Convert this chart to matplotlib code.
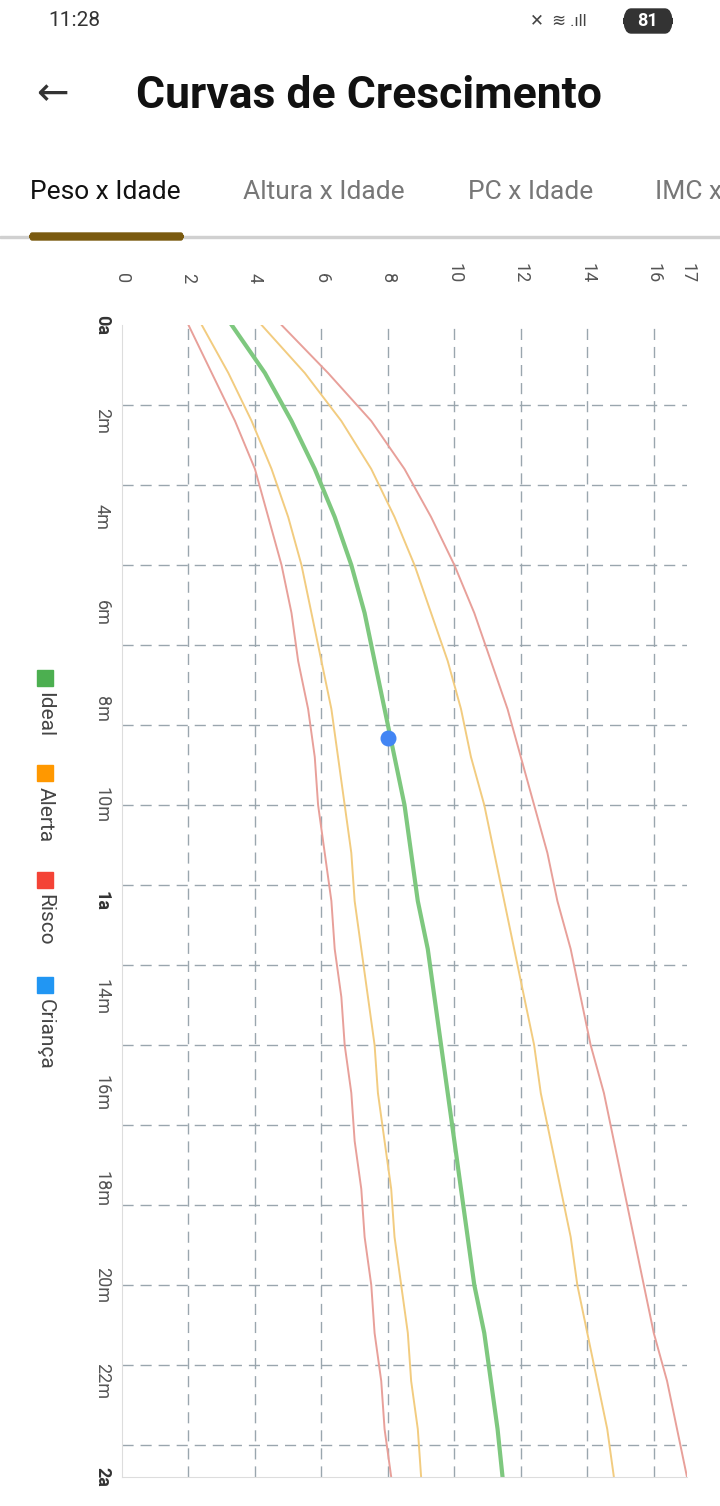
import matplotlib.pyplot as plt
import matplotlib.patches as mpatches
import numpy as np

# weight-for-age curves (kg) by month, 0..24
months = list(range(25))
risk_low = [2.0, 2.7, 3.4, 4.0, 4.4, 4.8, 5.1, 5.3, 5.6, 5.8, 5.9, 6.1, 6.3,
            6.4, 6.6, 6.7, 6.9, 7.0, 7.2, 7.3, 7.5, 7.6, 7.8, 7.9, 8.1]
alert_low = [2.4, 3.2, 3.9, 4.5, 5.0, 5.4, 5.7, 6.0, 6.3, 6.5, 6.7, 6.9, 7.0,
             7.2, 7.4, 7.6, 7.7, 7.9, 8.1, 8.2, 8.4, 8.6, 8.7, 8.9, 9.0]
ideal = [3.3, 4.3, 5.1, 5.8, 6.4, 6.9, 7.3, 7.6, 7.9, 8.2, 8.5, 8.7, 8.9,
         9.2, 9.4, 9.6, 9.8, 10.0, 10.2, 10.4, 10.6, 10.9, 11.1, 11.3, 11.45]
alert_high = [4.2, 5.5, 6.6, 7.5, 8.2, 8.8, 9.3, 9.8, 10.2, 10.5, 10.9, 11.2, 11.5,
              11.8, 12.1, 12.4, 12.6, 12.9, 13.2, 13.5, 13.7, 14.0, 14.3, 14.6, 14.8]
risk_high = [4.8, 6.2, 7.5, 8.5, 9.3, 10.0, 10.6, 11.1, 11.6, 12.0, 12.4, 12.8, 13.1,
             13.5, 13.8, 14.1, 14.5, 14.8, 15.1, 15.4, 15.7, 16.0, 16.4, 16.7, 17.0]
child_month = [8.6]
child_weight = [8.0]

x_ticks = [0, 2, 4, 6, 8, 10, 12, 14, 16, 17]
y_ticks = [0, 2, 4, 6, 8, 10, 12, 14, 16, 18, 20, 22, 24]
y_labels = ["0a", "2m", "4m", "6m", "8m", "10m", "1a", "14m", "16m", "18m", "20m", "22m", "2a"]
legend_names = ["Ideal", "Alerta", "Risco", "Criança"]
legend_colors = ["#4caf50", "#ff9800", "#f44336", "#2196f3"]

plt.rcParams['font.family'] = ['Roboto', 'DejaVu Sans']
W, H = 720, 1506
fig = plt.figure(figsize=(7.2, 15.06), dpi=100)

def fx(px):
    return px / W

def fy(py):
    return 1 - py / H

# header
fig.text(fx(48), fy(20), "11:28", fontsize=15, color="#333", va="center")
fig.text(fx(530), fy(21), "\u2715  ≋ .ıll", fontsize=12, color="#444", va="center")
fig.patches.append(mpatches.FancyBboxPatch((fx(624), fy(33)), fx(48), 24 / H,
                   boxstyle="round,pad=0,rounding_size=0.01", transform=fig.transFigure,
                   color="#333"))
fig.text(fx(648), fy(21), "81", fontsize=13, color="white", weight="bold", ha="center", va="center")
fig.text(fx(52), fy(95), "\u2190", fontsize=28, color="#333", ha="center", va="center")
fig.text(fx(136), fy(96), "Curvas de Crescimento", fontsize=32, weight="bold", color="#111", va="center")
tabs = [("Peso x Idade", 30, "#111"), ("Altura x Idade", 243, "#777"),
        ("PC x Idade", 468, "#777"), ("IMC x Idade", 655, "#777")]
for name, px, c in tabs:
    fig.text(fx(px), fy(192), name, fontsize=19, color=c, va="center")
fig.patches.append(mpatches.Rectangle((0, fy(238)), 1, 2 / H, transform=fig.transFigure, color="#d0d0d0"))
fig.patches.append(mpatches.FancyBboxPatch((fx(30), fy(240)), fx(153), 7 / H,
                   boxstyle="round,pad=0,rounding_size=0.003", transform=fig.transFigure,
                   color="#7a5a10"))

# chart
ax = fig.add_axes([fx(122), fy(1477), fx(565), (1477 - 325) / H])
ax.set_xlim(0, 17)
ax.set_ylim(24, 0)
grid_c = "#9aa6ae"
for v in [2, 4, 6, 8, 10, 12, 14, 16]:
    ax.axvline(v, color=grid_c, lw=1, ls=(0, (8, 5)), zorder=0)
for m in np.arange(5 / 3, 24, 5 / 3):
    ax.axhline(m, color=grid_c, lw=1, ls=(0, (8, 5)), zorder=0)

ax.plot(risk_low, months, color="#e8a09a", lw=1.4)
ax.plot(risk_high, months, color="#e8a09a", lw=1.4)
ax.plot(alert_low, months, color="#f2cc80", lw=1.4)
ax.plot(alert_high, months, color="#f2cc80", lw=1.4)
ax.plot(ideal, months, color="#7ec87f", lw=3)
ax.scatter(child_weight, child_month, s=110, color="#4285f4", zorder=5)

for s in ["top", "right"]:
    ax.spines[s].set_visible(False)
for s in ["left", "bottom"]:
    ax.spines[s].set_color("#dddddd")
ax.xaxis.tick_top()
ax.set_xticks(x_ticks)
ax.set_xticklabels([str(v) for v in x_ticks], rotation=-90, fontsize=13, color="#555")
ax.set_yticks(y_ticks)
ax.set_yticklabels(y_labels, rotation=-90, fontsize=13, color="#555", va="center")
for lab in ax.get_yticklabels():
    if lab.get_text() in ("0a", "1a", "2a"):
        lab.set_fontweight("bold")
        lab.set_color("#333")
ax.tick_params(axis="x", length=0, pad=30)
ax.tick_params(axis="y", length=0, pad=8)

# legend (rotated)
ly = [670, 765, 872, 977]
for name, c, py in zip(legend_names, legend_colors, ly):
    fig.patches.append(mpatches.Rectangle((fx(37), fy(py + 16)), fx(16), 16 / H,
                       transform=fig.transFigure, color=c))
    fig.text(fx(45), fy(py + 22), name, rotation=-90, fontsize=15, color="#444",
             ha="center", va="top")

fig.savefig("out.png", dpi=100)
